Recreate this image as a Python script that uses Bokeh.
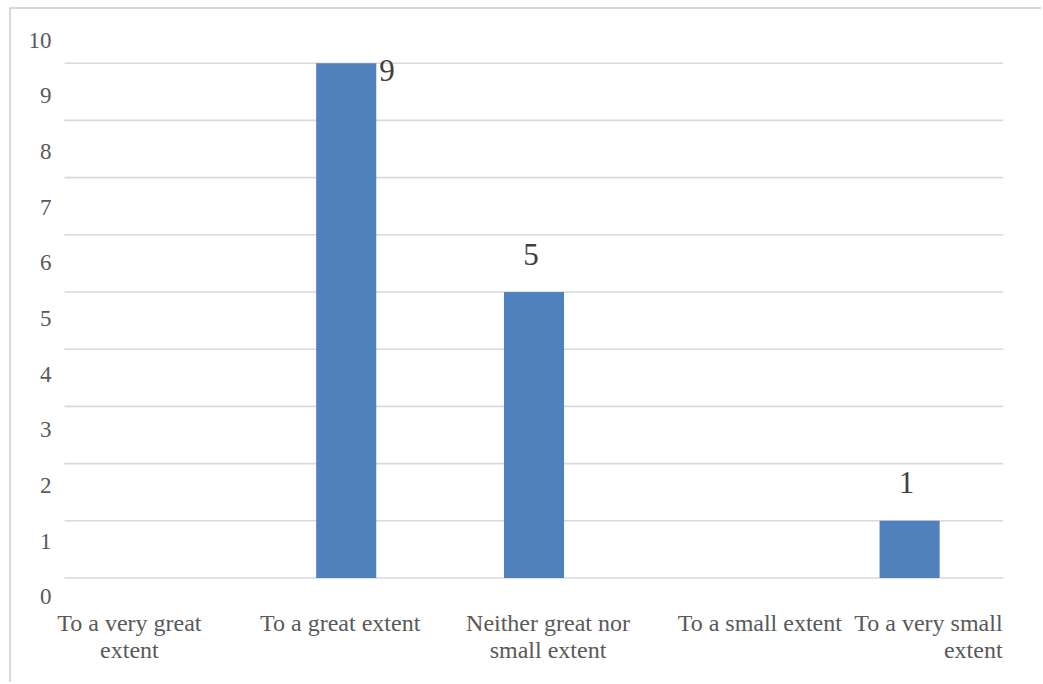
from bokeh.plotting import figure
from bokeh.models import (Range1d, LinearAxis, FixedTicker,
                          ColumnDataSource, LabelSet)
from bokeh.core.properties import value
from bokeh.embed import file_html
from bokeh.resources import INLINE

# ---- data -------------------------------------------------------------
categories = [
    "To a very great extent",
    "To a great extent",
    "Neither great nor small extent",
    "To a small extent",
    "To a very small extent",
]
counts = [0, 9, 5, 0, 1]
category_labels = [
    "To a very great\nextent",
    "To a great extent",
    "Neither great nor\nsmall extent",
    "To a small extent",
    "To a very small\nextent",
]
grid_ticks = [0, 1, 2, 3, 4, 5, 6, 7, 8, 9]
value_ticks = [0, 1, 2, 3, 4, 5, 6, 7, 8, 9, 10]

# ---- styling ----------------------------------------------------------
BAR_COLOR = "#4f81bd"
GRID_COLOR = "#d9d9d9"
TICK_COLOR = "#595959"
VALUE_COLOR = "#404040"
FONT = "Liberation Serif"

# horizontal nudges / alignment of the category captions
caption_dx = [-29, -6, 14, 38, 93]
caption_align = ["center", "center", "center", "center", "right"]
CAPTION_TOP = -32      # px below the baseline (negative = down)
CAPTION_LINE = 27      # px between caption lines

# category slots sit at integer positions; a little room is left on the left
xpos = list(range(len(categories)))
slot_lo, slot_hi = -0.5, len(categories) - 0.5

p = figure(
    width=1032, height=675,
    x_range=Range1d(slot_lo - 0.064, slot_hi),
    y_range=Range1d(-1.862, 9.834),
    x_axis_location=None, y_axis_location=None,
    toolbar_location=None, output_backend="svg",
    title=None,
    min_border_left=41, min_border_right=40,
    min_border_top=6, min_border_bottom=0,
)
p.styles = {
    "margin-left": "9px", "margin-top": "7px",
    "border-left": "2px solid #d9d9d9", "border-top": "2px solid #d9d9d9",
}
p.outline_line_color = None
p.background_fill_color = "white"
p.border_fill_color = "white"
for g in list(p.grid):
    g.visible = False

# horizontal gridlines spanning the category slots
p.segment(x0=slot_lo, x1=slot_hi, y0=grid_ticks, y1=grid_ticks,
          line_color=GRID_COLOR, line_width=1.6)

# value axis: its own range so the numbers sit in the slots between gridlines
p.extra_y_ranges = {"values": Range1d(-1.571, 10.440)}
yaxis = LinearAxis(
    y_range_name="values",
    ticker=FixedTicker(ticks=value_ticks),
    axis_line_color=None,
    major_tick_line_color=None, minor_tick_line_color=None,
    major_tick_in=0, major_tick_out=0,
    major_label_standoff=1,
    major_label_text_font=FONT,
    major_label_text_font_size="23px",
    major_label_text_color=TICK_COLOR,
)
p.add_layout(yaxis, "left")

# ---- bars -------------------------------------------------------------
src = ColumnDataSource(dict(x=xpos, val=counts))
p.vbar(x="x", top="val", bottom=0, width=0.32, source=src,
       fill_color=BAR_COLOR, line_color=None)

# ---- value labels -----------------------------------------------------
top_val = max(counts)
lab_x, lab_val, lab_txt, lab_dx, lab_dy, lab_align = [], [], [], [], [], []
for x, v in zip(xpos, counts):
    if v <= 0:
        continue
    lab_x.append(x)
    lab_val.append(v)
    lab_txt.append(str(v))
    if v == top_val:
        lab_dx.append(33); lab_dy.append(7); lab_align.append("left")
    else:
        lab_dx.append(-3); lab_dy.append(-38); lab_align.append("center")
lsrc = ColumnDataSource(dict(x=lab_x, val=lab_val, txt=lab_txt,
                             dx=lab_dx, dy=lab_dy, align=lab_align))
p.text(x="x", y="val", text="txt", x_offset="dx", y_offset="dy",
       text_align="align", text_baseline="middle", source=lsrc,
       text_font=value(FONT), text_font_size="31px", text_color=VALUE_COLOR)

# ---- category captions (one row per wrapped line) ---------------------
for al in ("center", "right"):
    rows = dict(x=[], y=[], txt=[], dx=[], dy=[])
    for i, lbl in enumerate(category_labels):
        if caption_align[i] != al:
            continue
        for k, line in enumerate(lbl.split("\n")):
            rows["x"].append(xpos[i])
            rows["y"].append(0)
            rows["txt"].append(line)
            rows["dx"].append(caption_dx[i])
            rows["dy"].append(CAPTION_TOP - CAPTION_LINE * k)
    p.add_layout(LabelSet(
        x="x", y="y", text="txt", x_offset="dx", y_offset="dy",
        source=ColumnDataSource(rows), text_align=al, text_baseline="top",
        text_font=value(FONT), text_font_size="24px", text_color=TICK_COLOR,
    ))

open("out.html", "w").write(file_html(p, INLINE))
